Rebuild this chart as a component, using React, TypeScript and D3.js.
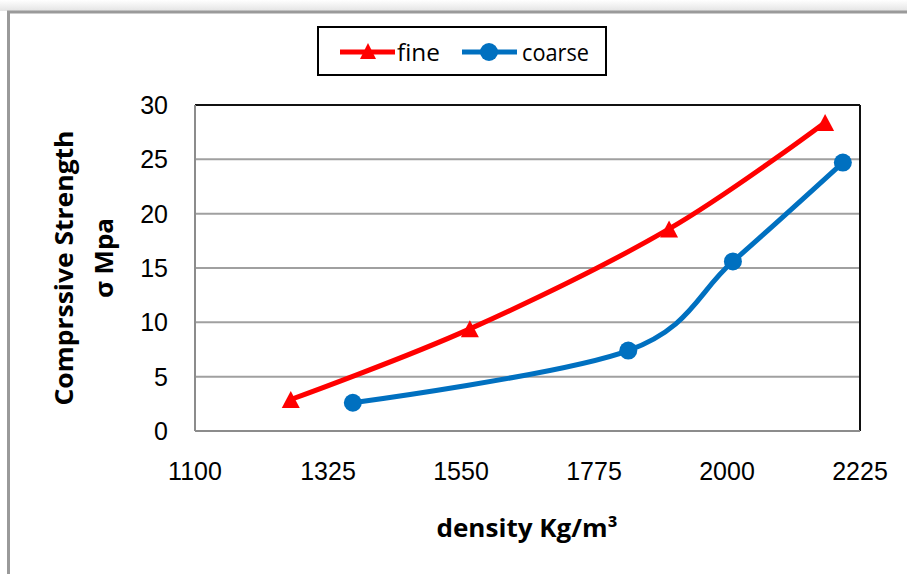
import React from "react";
import * as d3 from "d3";

const fineX = [1262, 1565, 1902, 2166];
const fineY = [2.9, 9.4, 18.6, 28.4];
const coarseX = [1367, 1833, 2010, 2196];
const coarseY = [2.6, 7.4, 15.6, 24.7];
const xTicks = [1100, 1325, 1550, 1775, 2000, 2225];
const yTicks = [0, 5, 10, 15, 20, 25, 30];
const seriesNames = ["fine", "coarse"];

const W = 907;
const H = 574;
const left = 195;
const right = 860;
const top = 105;
const bottom = 431;

const RED = "#FF0000";
const BLUE = "#0070C0";

function tri(cx: number, cy: number, w = 18, h = 17) {
  return `M${cx},${cy - h / 2}L${cx + w / 2},${cy + h / 2}L${cx - w / 2},${cy + h / 2}Z`;
}

export default function App() {
  const x = d3.scaleLinear().domain([1100, 2225]).range([left, right]);
  const y = d3.scaleLinear().domain([0, 30]).range([bottom, top]);
  const line = d3
    .line<[number, number]>()
    .x((d) => x(d[0]))
    .y((d) => y(d[1]))
    .curve(d3.curveCardinal.tension(0));
  const fine: [number, number][] = fineX.map((v, i) => [v, fineY[i]]);
  const coarse: [number, number][] = coarseX.map((v, i) => [v, coarseY[i]]);

  return (
    <svg
      width={W}
      height={H}
      style={{ position: "absolute", left: 0, top: 0, background: "#fff" }}
    >
      <defs>
        <linearGradient id="sh" x1="0" y1="0" x2="0" y2="1">
          <stop offset="0" stopColor="#fff" />
          <stop offset="1" stopColor="#e4e4e4" />
        </linearGradient>
      </defs>
      <rect x={0} y={0} width={W} height={11} fill="url(#sh)" />
      <rect x={8.5} y={12} width={1000} height={1000} fill="#fff" stroke="#9a9a9a" strokeWidth={3} />

      {/* gridlines */}
      {yTicks.slice(1, -1).map((t) => (
        <line key={t} x1={left} x2={right} y1={y(t)} y2={y(t)} stroke="#a0a0a0" strokeWidth={2} />
      ))}
      <line x1={left} x2={right} y1={y(30)} y2={y(30)} stroke="#111" strokeWidth={2} />
      <line x1={right} x2={right} y1={top} y2={bottom} stroke="#111" strokeWidth={2} />
      <line x1={left} x2={left} y1={top} y2={bottom} stroke="#8c8c8c" strokeWidth={2} />
      <line x1={left} x2={right} y1={bottom} y2={bottom} stroke="#8c8c8c" strokeWidth={2} />

      {/* y tick labels */}
      {yTicks.map((t) => (
        <text
          key={t}
          x={168}
          y={y(t)}
          textAnchor="end"
          dominantBaseline="central"
          fontFamily="Liberation Sans, Arial, sans-serif"
          fontSize={25}
          fill="#000"
        >
          {t}
        </text>
      ))}
      {/* x tick labels */}
      {xTicks.map((t) => (
        <text
          key={t}
          x={x(t)}
          y={480}
          textAnchor="middle"
          fontFamily="Liberation Sans, Arial, sans-serif"
          fontSize={25}
          fill="#000"
        >
          {t}
        </text>
      ))}

      {/* series */}
      <path d={line(fine) || ""} fill="none" stroke={RED} strokeWidth={5} />
      <path d={line(coarse) || ""} fill="none" stroke={BLUE} strokeWidth={5} />
      {fine.map((d, i) => (
        <path key={i} d={tri(x(d[0]), y(d[1]))} fill={RED} />
      ))}
      {coarse.map((d, i) => (
        <circle key={i} cx={x(d[0])} cy={y(d[1])} r={9} fill={BLUE} />
      ))}

      {/* axis titles */}
      <text
        x={527}
        y={537}
        textAnchor="middle"
        fontFamily="Open Sans, sans-serif"
        fontWeight="bold"
        fontSize={25}
        textLength={181}
        lengthAdjust="spacingAndGlyphs"
        fill="#000"
      >
        density Kg/m³
      </text>
      <g transform="translate(63,268) rotate(-90)">
        <text
          x={0}
          y={0}
          textAnchor="middle"
          dominantBaseline="central"
          fontFamily="Open Sans, sans-serif"
          fontWeight="bold"
          fontSize={25}
          textLength={275}
          lengthAdjust="spacingAndGlyphs"
          fill="#000"
        >
          Comprssive Strength
        </text>
        <text
          x={10}
          y={40}
          textAnchor="middle"
          dominantBaseline="central"
          fontFamily="Open Sans, sans-serif"
          fontWeight="bold"
          fontSize={25}
          textLength={80}
          lengthAdjust="spacingAndGlyphs"
          fill="#000"
        >
          σ Mpa
        </text>
      </g>

      {/* legend */}
      <rect x={318} y={27} width={288} height={48} fill="#fff" stroke="#000" strokeWidth={2} />
      <line x1={340} x2={395} y1={52} y2={52} stroke={RED} strokeWidth={5} />
      <path d={tri(368, 51, 16, 16)} fill={RED} />
      <text x={397} y={52} dominantBaseline="central" fontFamily="Open Sans, sans-serif" fontSize={23} textLength={43} lengthAdjust="spacingAndGlyphs" fill="#000">
        {seriesNames[0]}
      </text>
      <line x1={462} x2={517} y1={52} y2={52} stroke={BLUE} strokeWidth={5} />
      <circle cx={489} cy={52} r={9} fill={BLUE} />
      <text x={522} y={52} dominantBaseline="central" fontFamily="Open Sans, sans-serif" fontSize={23} textLength={67} lengthAdjust="spacingAndGlyphs" fill="#000">
        {seriesNames[1]}
      </text>
    </svg>
  );
}
